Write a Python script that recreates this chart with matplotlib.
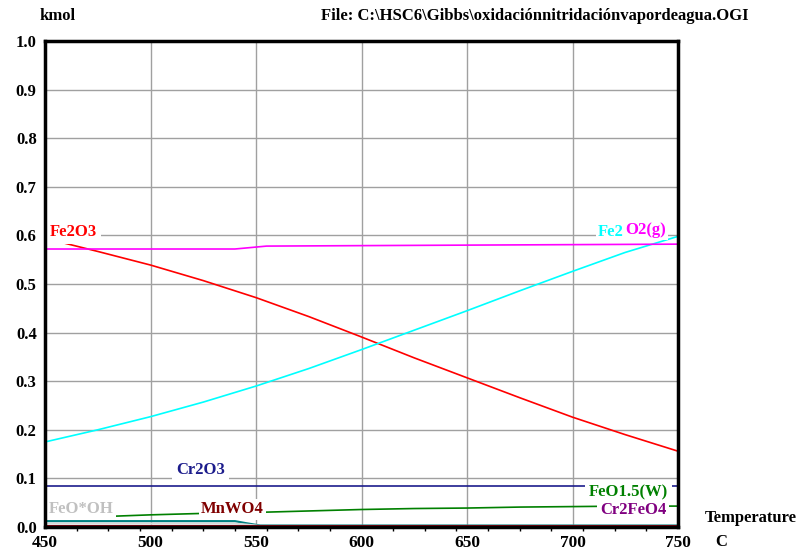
import matplotlib
matplotlib.use("Agg")
import matplotlib.pyplot as plt
from matplotlib.ticker import MultipleLocator

# Equilibrium amounts (kmol) versus temperature (C)
T = [450, 475, 500, 525, 550, 575, 600, 625, 650, 675, 700, 725, 750]
fe2o3 = [0.594, 0.567, 0.539, 0.507, 0.472, 0.433, 0.391, 0.348, 0.307, 0.266, 0.226, 0.190, 0.156]
fe2_cyan = [0.175, 0.200, 0.227, 0.257, 0.290, 0.326, 0.365, 0.405, 0.445, 0.486, 0.526, 0.565, 0.598]
feo15 = [0.018, 0.021, 0.025, 0.028, 0.030, 0.033, 0.036, 0.038, 0.039, 0.041, 0.042, 0.043, 0.043]
cr2o3 = [0.085] * len(T)

T_o2 = [450, 540, 555, 650, 750]
o2g = [0.572, 0.572, 0.578, 0.580, 0.582]

T_low = [450, 540, 545, 552, 600, 750]
teal_low = [0.012, 0.012, 0.008, 0.003, 0.003, 0.003]
feooh = [0.007, 0.007, 0.005, 0.002, 0.002, 0.002]
mnwo4 = [0.002] * len(T_low)
cr2feo4 = [0.003, 0.003, 0.003, 0.003, 0.003, 0.003]

x_ticks = [450, 500, 550, 600, 650, 700, 750]
y_ticks = [0.0, 0.1, 0.2, 0.3, 0.4, 0.5, 0.6, 0.7, 0.8, 0.9, 1.0]

serif = ["Liberation Serif", "DejaVu Serif"]
plt.rcParams["font.family"] = serif
plt.rcParams["font.weight"] = "bold"

fig = plt.figure(figsize=(8.0, 5.54), dpi=100)
ax = fig.add_axes([45 / 800, 27 / 554, 633 / 800, 486 / 554])

ax.set_xlim(450, 750)
ax.set_ylim(0, 1.0)
ax.set_xticks(x_ticks)
ax.set_yticks(y_ticks)
ax.set_xticklabels([str(v) for v in x_ticks], fontsize=12.5, fontweight="bold")
ax.set_yticklabels([f"{v:.1f}" for v in y_ticks], fontsize=12, fontweight="bold")
ax.xaxis.set_minor_locator(MultipleLocator(15))
ax.tick_params(axis="both", which="major", length=0, pad=6)
ax.tick_params(axis="x", which="minor", length=3, width=1, direction="out", color="black")
ax.tick_params(axis="y", which="minor", length=0)

ax.grid(True, which="major", color="#a0a0a0", linewidth=1.0, zorder=0)
for sp in ax.spines.values():
    sp.set_linewidth(2.5)
    sp.set_color("black")
    sp.set_zorder(8)

lw = 1.2
ax.plot(T, fe2o3, color="#ff0000", lw=lw, zorder=3)
ax.plot(T, fe2_cyan, color="#00ffff", lw=lw, zorder=3)
ax.plot(T_o2, o2g, color="#ff00ff", lw=lw, zorder=3)
ax.plot(T, cr2o3, color="#1c1c8c", lw=lw, zorder=3)
ax.plot(T, feo15, color="#008000", lw=lw, zorder=3)
# species close to zero stay visible in front of the label boxes
ax.plot(T_low, teal_low, color="#008080", lw=1.6, zorder=7)
ax.plot(T_low, feooh, color="#d8d8d8", lw=1.6, zorder=7)
ax.plot(T_low, cr2feo4, color="#800080", lw=1.8, zorder=7)
ax.plot(T_low, mnwo4, color="#800000", lw=2.0, zorder=7)


def label(x, y, s, color, z=4, pad=0.25):
    box = dict(facecolor="white", edgecolor="none", boxstyle=f"square,pad={pad}")
    ax.text(x, y, s, color=color, fontsize=12, fontweight="bold",
            ha="left", va="center", bbox=box, zorder=z)


label(452.4, 0.607, "Fe2O3", "#ff0000")
label(512.1, 0.117, "Cr2O3", "#1c1c8c")
label(451.9, 0.037, "FeO*OH", "#c0c0c0", pad=0.15)
label(524.0, 0.037, "MnWO4", "#800000", pad=0.15)
label(707.8, 0.071, "FeO1.5(W)", "#008000", z=4)
label(713.0, 0.034, "Cr2FeO4", "#800080", z=5, pad=0.15)
label(712.1, 0.607, "Fe2", "#00ffff", z=4, pad=0.1)
label(725.0, 0.611, "O2(g)", "#ff00ff", z=5, pad=0.1)

fig.text(40 / 800, 1 - 16 / 554, "kmol", fontsize=12, fontweight="bold",
         ha="left", va="center")
fig.text(749 / 800, 1 - 16 / 554,
         "File: C:\\HSC6\\Gibbs\\oxidaciónnitridaciónvapordeagua.OGI",
         fontsize=12, fontweight="bold", ha="right", va="center")
fig.text(705 / 800, 1 - 518 / 554, "Temperature", fontsize=12,
         fontweight="bold", ha="left", va="center")
fig.text(715 / 800, 1 - 542 / 554, "C", fontsize=12, fontweight="bold",
         ha="left", va="center")

fig.savefig("out.png", dpi=100, facecolor="white")
